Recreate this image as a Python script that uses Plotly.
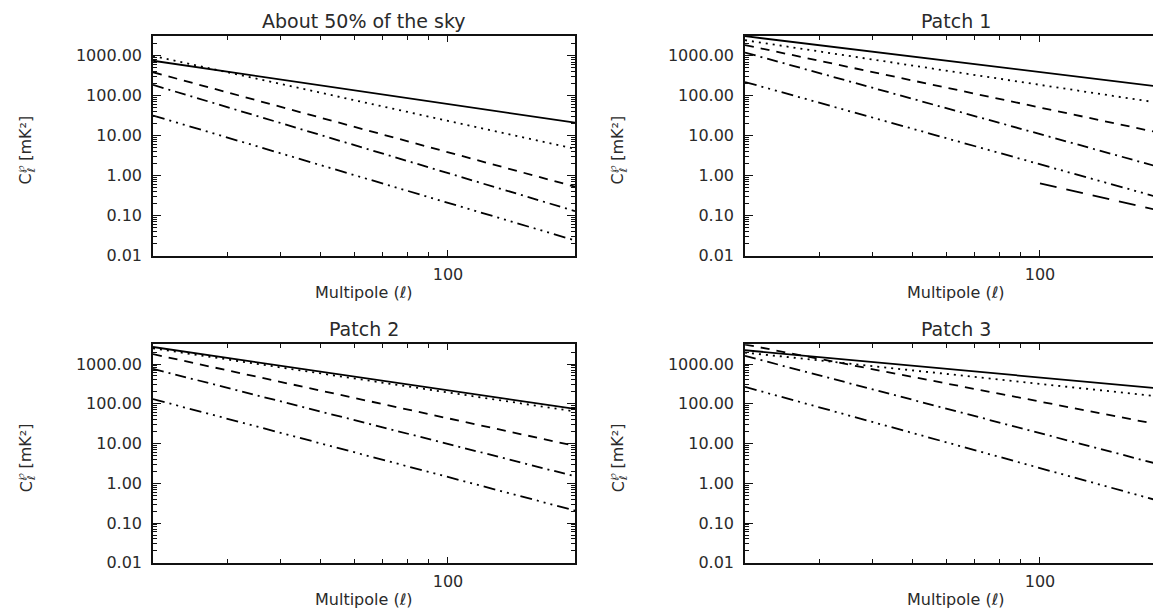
import plotly.graph_objects as go

W, H = 1161, 613

# ---------------- data (values read at ell = 20 and ell = 200) ----------------
ell_ends = [20, 200]
panel_titles = ["About 50% of the sky", "Patch 1", "Patch 2", "Patch 3"]
series_names = ["solid", "dotted", "dashed", "dash-dot", "dash-3dot"]

sky50_vals = {
    "solid": [753, 21.3],
    "dotted": [1000, 4.7],
    "dashed": [389, 0.53],
    "dash-dot": [187, 0.13],
    "dash-3dot": [32, 0.024],
}
patch1_vals = {
    "solid": [3100, 160],
    "dotted": [2460, 62],
    "dashed": [1860, 10.8],
    "dash-dot": [1210, 1.45],
    "dash-3dot": [221, 0.25],
}
patch1_extra_ell = [100, 200]
patch1_extra_vals = [0.64, 0.121]
patch2_vals = {
    "solid": [2680, 74],
    "dotted": [2480, 64],
    "dashed": [1770, 8.7],
    "dash-dot": [753, 1.5],
    "dash-3dot": [131, 0.206],
}
patch3_vals = {
    "solid": [2220, 232],
    "dotted": [1940, 145],
    "dashed": [3100, 27.3],
    "dash-dot": [1600, 2.65],
    "dash-3dot": [266, 0.318],
}
panels = [sky50_vals, patch1_vals, patch2_vals, patch3_vals]

y_tickvals = [0.01, 0.1, 1, 10, 100, 1000]
y_ticktext = ["0.01", "0.10", "1.00", "10.00", "100.00", "1000.00"]
x_tickvals = [100]
x_ticktext = ["100"]
x_title = "Multipole (<i>ℓ</i>)"
# y title pieces: main letter, subscript, superscript, unit
y_title_main = "C"
y_title_sub = "ℓ"
y_title_sup = "℘"
y_title_unit = "[mK²]"

# ---------------- styles ----------------
dash_styles = {
    "solid": "solid",
    "dotted": "2px,5px",
    "dashed": "9px,7px",
    "dash-dot": "11px,5px,2px,5px",
    "dash-3dot": "12px,5px,2px,5px,2px,5px,2px,5px",
}
longdash = "17px,10px"
LINE_W = 1.8
INK = "#111111"
TXT = "#2a2a2a"
FONT = "DejaVu Sans"
F_MAIN = 16
F_SMALL = 11

# panel pixel boxes (left, right, top, bottom)
boxes = [
    (145, 567, 28.3, 251.7),
    (737, 1159, 28.3, 251.7),
    (145, 567, 341.7, 564),
    (737, 1159, 341.7, 564),
]

fig = go.Figure()

y_minor = []
for d in range(-2, 4):
    for k in range(2, 10):
        v = k * 10 ** d
        if v < 3162:
            y_minor.append(v)
x_minor = [30, 40, 50, 60, 70, 80, 90, 200]


def px_ann(text, px, py, size, angle=0):
    return dict(
        text=text, x=px / W, y=1 - py / H, xref="paper", yref="paper",
        xanchor="center", yanchor="middle", showarrow=False, textangle=angle,
        font=dict(family=FONT, size=size, color=TXT))


annotations = []
for i, (vals, box) in enumerate(zip(panels, boxes)):
    n = "" if i == 0 else str(i + 1)
    xa, ya = "x" + n, "y" + n
    for name in series_names:
        fig.add_trace(go.Scatter(
            x=ell_ends, y=vals[name], mode="lines", xaxis=xa, yaxis=ya,
            line=dict(color="black", width=LINE_W, dash=dash_styles[name]),
            showlegend=False, hoverinfo="skip"))
    if i == 1:
        fig.add_trace(go.Scatter(
            x=patch1_extra_ell, y=patch1_extra_vals, mode="lines", xaxis=xa, yaxis=ya,
            line=dict(color="black", width=LINE_W, dash=longdash),
            showlegend=False, hoverinfo="skip"))

    l, r, t, b = box
    xd = [l / W, r / W]
    yd = [1 - b / H, 1 - t / H]
    fig.layout["xaxis" + n] = dict(
        type="log", range=[1.30103, 2.30103], domain=xd, anchor=ya,
        showline=True, linecolor=INK, linewidth=1.5, mirror="ticks",
        ticks="inside", ticklen=6, tickwidth=1.2, tickcolor=INK,
        tickvals=x_tickvals, ticktext=x_ticktext,
        tickfont=dict(family=FONT, size=16, color=TXT),
        ticklabelstandoff=3,
        minor=dict(tickvals=x_minor, ticks="inside", ticklen=4, tickwidth=1, tickcolor=INK),
        showgrid=False, zeroline=False, fixedrange=True,
    )
    fig.layout["yaxis" + n] = dict(
        type="log", range=[-2, 3.5], domain=yd, anchor=xa,
        showline=True, linecolor=INK, linewidth=1.5, mirror="ticks",
        ticks="inside", ticklen=8, tickwidth=1.2, tickcolor=INK,
        tickvals=y_tickvals, ticktext=y_ticktext,
        tickfont=dict(family=FONT, size=16, color=TXT),
        ticklabelstandoff=6,
        minor=dict(tickvals=y_minor, ticks="inside", ticklen=4, tickwidth=1, tickcolor=INK),
        showgrid=False, zeroline=False, fixedrange=True,
    )
    cx = (l + r) / 2
    annotations.append(px_ann(panel_titles[i], cx, t - 15, 19))
    annotations.append(px_ann(x_title, cx, b + 37.5, 16))

    # rotated y title assembled from pieces (reads bottom-to-top)
    xc = l - 127
    ymid = (t + b) / 2 + 5
    y0 = ymid + 35
    annotations.append(px_ann(y_title_main, xc, y0 - 5.6, F_MAIN, -90))
    annotations.append(px_ann(y_title_sub, xc + 5.5, y0 - 14.5, F_SMALL, -90))
    annotations.append(px_ann(y_title_sup, xc - 5.5, y0 - 16, F_SMALL, -90))
    annotations.append(px_ann(y_title_unit, xc, y0 - 47, F_MAIN, -90))

fig.update_layout(
    width=W, height=H, margin=dict(l=0, r=0, t=0, b=0),
    paper_bgcolor="white", plot_bgcolor="white",
    annotations=annotations, showlegend=False,
)

fig.write_html("out.html")
